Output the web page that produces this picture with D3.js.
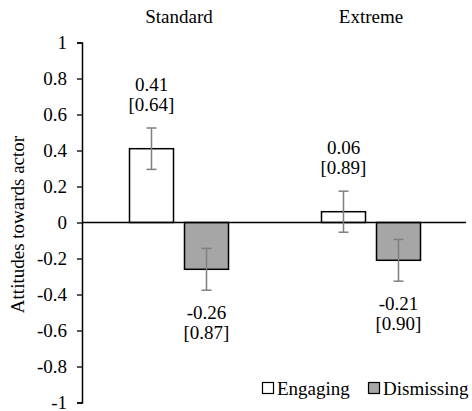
<!DOCTYPE html>
<html>
<head>
<meta charset="utf-8">
<script src="https://cdn.jsdelivr.net/npm/d3@7"></script>
</head>
<body style="margin:0;background:#fff">
<svg id="chart" width="472" height="411" style="display:block"></svg>
<script>
// Conditions, series and values (means with SD in brackets, SE for error bars)
const conditions = ["Standard", "Extreme"];
const seriesNames = ["Engaging", "Dismissing"];
const means = [[0.41, -0.26], [0.06, -0.21]];
const sds = [["0.64", "0.87"], ["0.89", "0.90"]];
const errors = [[0.115, 0.116], [0.114, 0.116]];
const yTicks = [1, 0.8, 0.6, 0.4, 0.2, 0, -0.2, -0.4, -0.6, -0.8, -1];
const fills = ["#ffffff", "#a6a6a6"];

const FONT = "Liberation Serif";
const svg = d3.select("#chart");
const plotLeft = 82, plotRight = 466, plotTop = 42.5, plotBottom = 402.5;
const fs = 19;

// every text gets the serif face and size directly
function txt(sel) {
  return sel.style("font-family", `"${FONT}", monospace`).attr("font-size", fs).attr("fill", "#000");
}

const y = d3.scaleLinear().domain([-1, 1]).range([plotBottom, plotTop]);
const x0 = d3.scaleBand().domain(conditions).range([plotLeft, plotRight]);
const x1 = d3.scaleBand().domain(seriesNames).range([-49.5, 49.5]).paddingInner(0.2);

// y axis
const yAxis = d3.axisLeft(y).tickValues(yTicks).tickSize(5).tickPadding(10)
  .tickFormat(d => d === 0 ? "0" : String(d));
const ag = svg.append("g").attr("transform", `translate(${plotLeft},0)`).call(yAxis);
ag.attr("font-family", null).attr("font-size", null);
ag.select(".domain").attr("stroke", "#000").attr("stroke-width", 1.5);
ag.selectAll(".tick line").attr("stroke", "#000").attr("stroke-width", 1.3);
txt(ag.selectAll(".tick text")).attr("dy", "0.32em");

// axis title
txt(svg.append("text"))
  .attr("transform", `translate(24,${(plotTop + plotBottom) / 2 + 2}) rotate(-90)`)
  .attr("text-anchor", "middle")
  .text("Attitudes towards actor");

// condition labels
txt(svg.selectAll(".cond").data(conditions).join("text"))
  .attr("class", "cond")
  .attr("x", d => x0(d) + x0.bandwidth() / 2 + 1)
  .attr("y", 23).attr("text-anchor", "middle")
  .text(d => d);

// bars, error bars and labels
const data = [];
conditions.forEach((c, i) => seriesNames.forEach((s, j) => {
  data.push({ c, s, j, v: means[i][j], sd: sds[i][j], e: errors[i][j] });
}));
const cx = d => x0(d.c) + x0.bandwidth() / 2 + 1 + x1(d.s);
const mid = d => cx(d) + x1.bandwidth() / 2;

svg.selectAll(".bar").data(data).join("rect")
  .attr("class", "bar")
  .attr("x", d => cx(d))
  .attr("width", x1.bandwidth())
  .attr("y", d => y(Math.max(0, d.v)))
  .attr("height", d => Math.abs(y(d.v) - y(0)))
  .attr("fill", d => fills[d.j]).attr("stroke", "#000").attr("stroke-width", 1.5);

// zero line
svg.append("line").attr("x1", plotLeft).attr("x2", plotRight)
  .attr("y1", y(0)).attr("y2", y(0)).attr("stroke", "#000").attr("stroke-width", 1.5);

const eg = svg.selectAll(".err").data(data).join("g").attr("class", "err")
  .attr("stroke", "#7f7f7f").attr("stroke-width", 1.5);
eg.append("line")
  .attr("x1", mid).attr("x2", mid)
  .attr("y1", d => y(d.v + d.e)).attr("y2", d => y(d.v - d.e));
[1, -1].forEach(sg => {
  eg.append("line")
    .attr("x1", d => mid(d) - 5).attr("x2", d => mid(d) + 5)
    .attr("y1", d => y(d.v + sg * d.e)).attr("y2", d => y(d.v + sg * d.e));
});

const lg = svg.selectAll(".lbl").data(data).join("g").attr("class", "lbl");
txt(lg.append("text"))
  .attr("x", mid)
  .attr("y", d => d.v >= 0 ? y(d.v) - 58 : y(d.v) + 50)
  .attr("text-anchor", "middle")
  .text(d => d.v.toFixed(2));
txt(lg.append("text"))
  .attr("x", mid)
  .attr("y", d => d.v >= 0 ? y(d.v) - 38 : y(d.v) + 70)
  .attr("text-anchor", "middle")
  .text(d => `[${d.sd}]`);

// legend
const legX = [262, 368];
const leg = svg.selectAll(".leg").data(seriesNames).join("g").attr("class", "leg")
  .attr("transform", (d, i) => `translate(${legX[i]},382)`);
leg.append("rect").attr("x", 0.5).attr("y", 0.5).attr("width", 11).attr("height", 11)
  .attr("fill", (d, i) => fills[i]).attr("stroke", "#000").attr("stroke-width", 1.2);
txt(leg.append("text")).attr("x", 15).attr("y", 13)
  .text(d => d);
</script>
</body>
</html>
